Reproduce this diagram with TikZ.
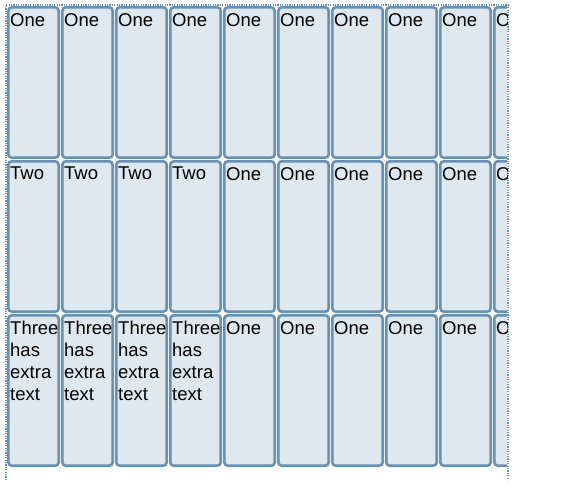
\documentclass[tikz,border=0pt]{standalone}
\usepackage{fontspec}
\setmainfont{Liberation Sans}
\usepackage{xcolor}
\definecolor{cellfill}{HTML}{DFE7EF}
\definecolor{cellline}{HTML}{6890B2}
\tikzset{
  cell/.style={draw=cellline, fill=cellfill, line width=2.6pt, rounded corners=3.5pt,
    minimum width=50.4pt, minimum height=150.4pt, inner sep=0pt, outer sep=0pt, anchor=north west},
  celltext/.style={anchor=north west, inner sep=0pt, align=left, font=\fontsize{18.5}{22}\selectfont},
  frame/.style={draw=cellline, line width=1.2pt, dash pattern=on 1.2pt off 1.2pt}
}

\begin{document}
\begin{tikzpicture}[x=1pt, y=-1pt]
\useasboundingbox (0,0) rectangle (583,488);

% dotted frame
\coordinate (fbl) at (6,480);
\coordinate (ftl) at (6,5);
\coordinate (ftr) at (508,5);
\coordinate (fbr) at (508,480);
\draw[frame] (fbl) -- (ftl) -- (ftr) -- (fbr);

\begin{scope}
\clip (0,0) rectangle (507,488);

% first row
\foreach \c in {1,...,10} {
  \node[cell] (one-\c) at ({8.3+54*(\c-1)},7.3) {};
  \node[celltext] (one-\c-txt) at ({10+54*(\c-1)},13) {One};
}

% second row
\foreach \c in {1,...,10} {
  \node[cell] (two-\c) at ({8.3+54*(\c-1)},161.3) {};
}
\foreach \c in {1,...,4}
  \node[celltext] (two-\c-txt) at ({10+54*(\c-1)},167) {Two};
\foreach \c in {5,...,10}
  \node[celltext] (two-\c-txt) at ({10+54*(\c-1)},167) {One};

% third row
\foreach \c in {1,...,10} {
  \node[cell] (three-\c) at ({8.3+54*(\c-1)},315.3) {};
}
\foreach \c in {1,...,4}
  \node[celltext] (three-\c-txt) at ({10+54*(\c-1)},321) {Three\\has\\extra\\text};
\foreach \c in {5,...,10}
  \node[celltext] (three-\c-txt) at ({10+54*(\c-1)},321) {One};
\end{scope}
\end{tikzpicture}
\end{document}
